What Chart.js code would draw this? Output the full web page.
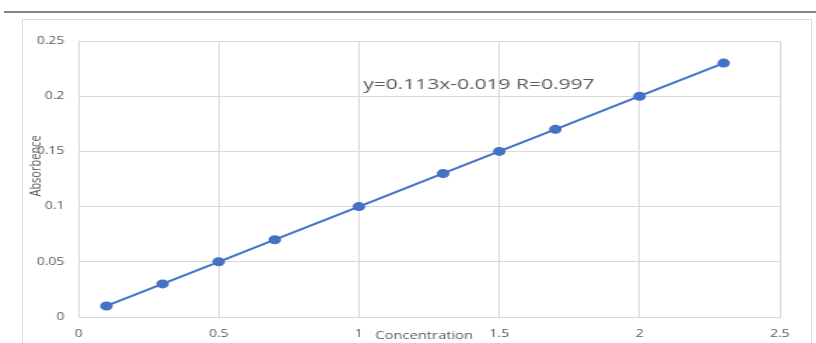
<!DOCTYPE html>
<html>
<head>
<meta charset="utf-8">
<script src="https://cdn.jsdelivr.net/npm/chart.js@4"></script>
<style>
body { margin: 0; width: 816px; height: 343px; overflow: hidden; background: #fff; position: relative; }
.rule { position: absolute; left: 4px; top: 11px; width: 812px; height: 2px; background: #858585; }
.frame { position: absolute; left: 22px; top: 19px; width: 788px; height: 360px; border: 1px solid #dcdcdc; }
/* the source picture is stretched sideways, so the chart is too */
.wrap { position: absolute; left: 0; top: 0; width: 583px; height: 360px; transform: scaleX(1.4); transform-origin: 0 0; }
</style>
</head>
<body>
<div class="rule"></div>
<div class="frame"></div>
<div class="wrap"><canvas id="myChart"></canvas></div>
<script>
const concentration = [0.1, 0.3, 0.5, 0.7, 1.0, 1.3, 1.5, 1.7, 2.0, 2.3];
const absorbance = [0.01, 0.03, 0.05, 0.07, 0.1, 0.13, 0.15, 0.17, 0.2, 0.23];
const xTitle = 'Concentration';
const yTitle = 'Absorbence';
const fitText = 'y=0.113x-0.019 R=0.997';

const grey = '#595959';
const font = '"Open Sans", sans-serif';
const tickLabel = v => String(+v.toFixed(2));

const labels = {
	id: 'labels',
	afterDraw(chart) {
		const c = chart.ctx, a = chart.chartArea;
		const xs = chart.scales.x, ys = chart.scales.y;
		c.save();
		c.fillStyle = grey;
		c.textBaseline = 'middle';
		c.font = '15px ' + font;
		c.textAlign = 'left';
		c.fillText(fitText, xs.getPixelForValue(1.015), ys.getPixelForValue(0.21));
		c.font = '10.5px ' + font;
		c.textAlign = 'center';
		c.fillText(xTitle, a.left + (a.right - a.left) * 0.493, a.bottom + 19);
		c.translate(25.5, 166);
		c.rotate(-Math.PI / 2);
		c.font = '11px ' + font;
		c.fillText(yTitle, 0, 0);
		c.restore();
	}
};

var ctx = document.getElementById('myChart');
var myChart = new Chart(ctx, {
	type: 'scatter',
	data: {
		datasets: [{
			data: concentration.map((x, i) => ({ x: x, y: absorbance[i] })),
			showLine: true,
			borderColor: '#4472c4',
			backgroundColor: '#4472c4',
			borderWidth: 2,
			pointRadius: 3.5,
			pointHoverRadius: 3.5
		}]
	},
	options: {
		responsive: true,
		maintainAspectRatio: false,
		animation: false,
		layout: { padding: { left: 0, right: 26, top: 41, bottom: 0 } },
		plugins: { legend: { display: false }, tooltip: { enabled: false } },
		scales: {
			x: {
				type: 'linear', min: 0, max: 2.5,
				ticks: { stepSize: 0.5, color: grey, padding: 11, font: { family: font, size: 10 }, callback: tickLabel },
				grid: { color: '#d9d9d9', drawTicks: false },
				border: { color: '#d9d9d9' },
				afterFit(s) { s.height = 43; }
			},
			y: {
				min: 0, max: 0.25,
				ticks: { stepSize: 0.05, color: grey, padding: 10, font: { family: font, size: 10 }, callback: tickLabel },
				grid: { color: '#d9d9d9', drawTicks: false },
				border: { color: '#d9d9d9' },
				afterFit(s) { s.width = 56; }
			}
		}
	},
	plugins: [labels]
});
</script>
</body>
</html>
